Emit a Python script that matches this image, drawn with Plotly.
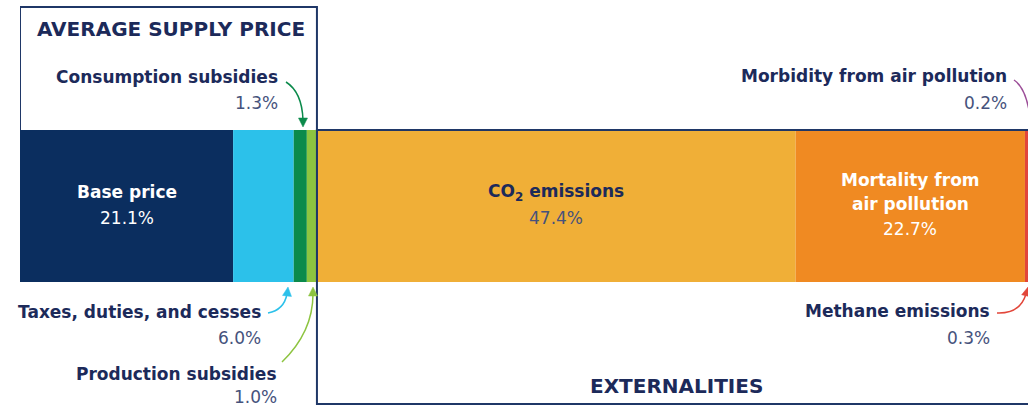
import math
import plotly.graph_objects as go

# Cost components of the full supply price, share of total (%)
components = [
    "Base price", "Taxes, duties, and cesses", "Consumption subsidies",
    "Production subsidies", "CO2 emissions", "Mortality from air pollution",
    "Methane emissions", "Morbidity from air pollution",
]
shares = [21.1, 6.0, 1.3, 1.0, 47.4, 22.7, 0.3, 0.2]
colors = ["#0b2e5f", "#2cc1ea", "#0b8a4b", "#8dc440", "#f0af37", "#f08a22",
          "#e2463a", "#9c4e98"]
n_supply = 4  # first four components make up the average supply price

W, H = 1028, 406
LEFT = 20
NAVY = "#1c2a5a"
PCT = "#46527c"
FONT = "DejaVu Sans"
SIZE = 17


def px(x):
    return (x - LEFT) / (W - LEFT)


def py(y):
    return 1 - y / H


fig = go.Figure()
base = 0.0
for name, val, col in zip(components, shares, colors):
    fig.add_trace(go.Bar(
        x=[val], y=[206], base=[base], width=[152], orientation="h",
        marker=dict(color=col, line=dict(width=0)), name=name,
        hoverinfo="name+x", showlegend=False,
    ))
    base += val

starts = [sum(shares[:i]) for i in range(len(shares))]
mids = [s + v / 2 for s, v in zip(starts, shares)]
supply_end = sum(shares[:n_supply])

annotations = []


def add_text(x, y, text, size=SIZE, color=NAVY, bold=False, xanchor="center",
             xref="x"):
    annotations.append(dict(
        x=x, y=y, xref=xref, yref="y", text=text, showarrow=False,
        xanchor=xanchor, yanchor="middle",
        font=dict(family=FONT, size=size, color=color,
                  weight=700 if bold else 400),
    ))


# Labels inside the bar
add_text(mids[0], 192, "Base price", bold=True, color="white")
add_text(mids[0], 218, f"{shares[0]:.1f}%", color="white")
add_text(mids[4], 192, "CO<sub>2</sub> emissions", bold=True)
add_text(mids[4], 218, f"{shares[4]:.1f}%", color=PCT)
add_text(mids[5], 180, "Mortality from", bold=True, color="white")
add_text(mids[5], 204, "air pollution", bold=True, color="white")
add_text(mids[5], 229, f"{shares[5]:.1f}%", color="white")


# Callout labels outside the bar (x in pixel -> paper)
def callout(xr, y1, y2, label, value):
    add_text(px(xr), y1, label, bold=True, xanchor="right", xref="paper")
    add_text(px(xr), y2, f"{value:.1f}%", color=PCT, xanchor="right",
             xref="paper")


callout(280, 77, 103, components[2], shares[2])
callout(263, 312, 338, components[1], shares[1])
callout(279, 374, 397, components[3], shares[3])
callout(1009, 76, 103, components[7], shares[7])
callout(992, 311, 338, components[6], shares[6])

# Group headings
add_text(px(171), 29, "AVERAGE SUPPLY PRICE", size=20, bold=True,
         xref="paper")
add_text(px(676), 386, "EXTERNALITIES", size=20, bold=True, xref="paper")

shapes = []
BOX = "#1f3767"
# Average supply price box (above the bar)
shapes.append(dict(type="path", xref="x", yref="y",
                   path=f"M 0,130 L 0,7 L {supply_end},7 L {supply_end},130",
                   line=dict(color=BOX, width=2)))
# Externalities box (below/right of the bar)
shapes.append(dict(type="path", xref="x", yref="y",
                   path=f"M 101,130 L {supply_end},130 L {supply_end},404 L 101,404",
                   line=dict(color=BOX, width=2)))
# Divider through the bar
shapes.append(dict(type="line", xref="x", yref="y", x0=supply_end,
                   x1=supply_end, y0=130, y1=282,
                   line=dict(color=BOX, width=1.5)))


def curve(p0, c, p1, color):
    shapes.append(dict(
        type="path", xref="paper", yref="paper",
        path=(f"M {px(p0[0])},{py(p0[1])} Q {px(c[0])},{py(c[1])} "
              f"{px(p1[0])},{py(p1[1])}"),
        line=dict(color=color, width=1.5)))


def head(tip, frm, color, length=9, half=4.5):
    # filled triangular arrowhead pointing from `frm` towards `tip`
    dx, dy = tip[0] - frm[0], tip[1] - frm[1]
    d = math.hypot(dx, dy)
    ux, uy = dx / d, dy / d
    bx, by = tip[0] - ux * length, tip[1] - uy * length
    p1 = (bx - uy * half, by + ux * half)
    p2 = (bx + uy * half, by - ux * half)
    shapes.append(dict(
        type="path", xref="paper", yref="paper",
        path=(f"M {px(tip[0])},{py(tip[1])} L {px(p1[0])},{py(p1[1])} "
              f"L {px(p2[0])},{py(p2[1])} Z"),
        fillcolor=color, line=dict(color=color, width=0.5)))


curve((286, 82), (302, 92), (303, 120), colors[2])
head((303, 127), (303, 118), colors[2])
curve((268, 313), (284, 310), (287, 294), colors[1])
head((288, 287), (287, 296), colors[1])
curve((282, 362), (313, 332), (313, 294), colors[3])
head((313, 287), (313, 296), colors[3])
curve((997, 313), (1020, 314), (1026, 294), colors[6])
head((1028, 287), (1026, 296), colors[6])
curve((1014, 80), (1026, 88), (1030, 116), colors[7])

fig.update_layout(
    width=W, height=H, margin=dict(l=LEFT, r=0, t=0, b=0),
    paper_bgcolor="white", plot_bgcolor="white", barmode="overlay",
    xaxis=dict(range=[0, (W - LEFT) / 10.1], visible=False, fixedrange=True),
    yaxis=dict(range=[H, 0], visible=False, fixedrange=True),
    shapes=shapes, annotations=annotations,
)
fig.write_html("out.html")
